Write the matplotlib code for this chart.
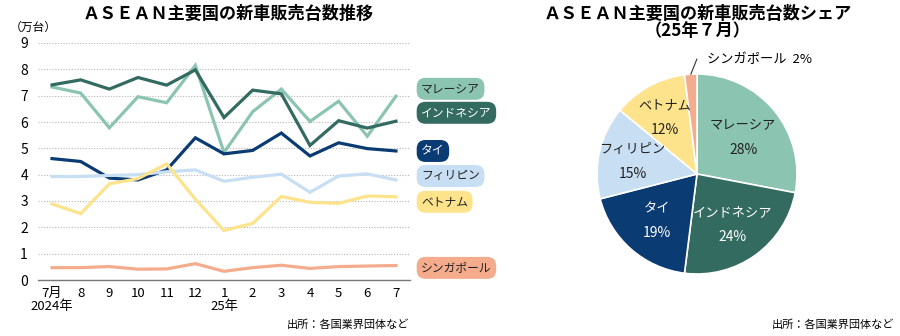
import matplotlib
matplotlib.use("Agg")
import numpy as np
import matplotlib.pyplot as plt

plt.rcParams["font.family"] = ["Noto Sans CJK JP", "DejaVu Sans"]

# 月次の新車販売台数（万台）
MONTHS = ["7月\n2024年", "8", "9", "10", "11", "12", "1\n25年", "2", "3", "4", "5", "6", "7"]
COUNTRIES = ["マレーシア", "インドネシア", "タイ", "フィリピン", "ベトナム", "シンガポール"]
MALAYSIA = [7.33, 7.10, 5.78, 6.96, 6.73, 8.15, 4.84, 6.39, 7.25, 6.02, 6.79, 5.46, 6.98]
INDONESIA = [7.41, 7.60, 7.25, 7.69, 7.40, 7.98, 6.17, 7.21, 7.07, 5.11, 6.05, 5.77, 6.03]
THAILAND = [4.61, 4.50, 3.87, 3.80, 4.18, 5.40, 4.79, 4.92, 5.58, 4.71, 5.21, 4.99, 4.90]
PHILIPPINES = [3.93, 3.93, 3.97, 4.00, 4.11, 4.18, 3.75, 3.90, 4.02, 3.33, 3.95, 4.03, 3.80]
VIETNAM = [2.89, 2.52, 3.65, 3.85, 4.41, 3.07, 1.88, 2.15, 3.17, 2.95, 2.91, 3.19, 3.16]
SINGAPORE = [0.47, 0.47, 0.51, 0.41, 0.42, 0.62, 0.33, 0.47, 0.56, 0.44, 0.51, 0.53, 0.55]

# 25年7月のシェア（%）
SHARES = [28, 24, 19, 15, 12, 2]

COLORS = ["#8bc4b1", "#336b61", "#0b3b73", "#c7def3", "#fde38b", "#f4ac8d"]
TEXT_COLORS = ["#222222", "white", "white", "#222222", "#222222", "#222222"]
LABEL_Y = [7.26, 6.35, 4.9, 3.95, 2.97, 0.46]

fig = plt.figure(figsize=(9, 3.36), dpi=100)

# ---- line chart ----
ax = fig.add_axes([38 / 900, 1 - 280 / 336, 372 / 900, 237 / 336])
series = [MALAYSIA, INDONESIA, THAILAND, PHILIPPINES, VIETNAM, SINGAPORE]
x = np.arange(len(MONTHS))
draw_order = [5, 3, 4, 2, 1, 0]
for i in draw_order:
    ax.plot(x, series[i], color=COLORS[i], lw=2.3, solid_joinstyle="miter", zorder=3 + i * 0.1)

ax.set_xlim(-0.49, 12.49)
ax.set_ylim(0, 9)
ax.set_yticks(range(0, 10))
ax.set_xticks(x)
ax.set_xticklabels(MONTHS, fontsize=9.5, linespacing=1.05)
ax.tick_params(axis="y", length=0, pad=10, labelsize=10)
ax.tick_params(axis="x", length=0, pad=5)
for t in ax.get_yticklabels():
    t.set_horizontalalignment("center")
for y in range(1, 10):
    ax.axhline(y, color="#b5b5b5", lw=0.8, ls=(0, (1, 1.5)), zorder=1)
for s in ["left", "right", "top"]:
    ax.spines[s].set_visible(False)
ax.spines["bottom"].set_color("#777777")
ax.spines["bottom"].set_linewidth(1.0)

for i, name in enumerate(COUNTRIES):
    ax.text(12.88, LABEL_Y[i], name, fontsize=8.5, color=TEXT_COLORS[i],
            ha="left", va="center", clip_on=False,
            bbox=dict(boxstyle="round,pad=0.38,rounding_size=0.75", fc=COLORS[i], ec="none"))

fig.text(228 / 900, 1 - 14 / 336, "ＡＳＥＡＮ主要国の新車販売台数推移", fontsize=12.3,
         fontweight="bold", ha="center", va="center")
fig.text(10 / 900, 1 - 27 / 336, "（万台）", fontsize=8.5, ha="left", va="center")
fig.text(409 / 900, 1 - 325 / 336, "出所：各国業界団体など", fontsize=8, ha="right", va="center")

# ---- pie chart ----
pax = fig.add_axes([597 / 900, 1 - 274 / 336, 200 / 900, 200 / 336])
wedges, _ = pax.pie(SHARES, colors=COLORS, startangle=90, counterclock=False,
                    wedgeprops=dict(edgecolor="white", linewidth=1.2))
pax.set_aspect("equal")
pax.set_xlim(-1, 1)
pax.set_ylim(-1, 1)

for i, w in enumerate(wedges[:-1]):
    ang = np.deg2rad((w.theta1 + w.theta2) / 2)
    r = 0.6 if i < 3 else 0.66
    px, py = r * np.cos(ang), r * np.sin(ang)
    pax.text(px, py + 0.1, COUNTRIES[i], fontsize=9.5, color=TEXT_COLORS[i], ha="center", va="center")
    pax.text(px, py - 0.14, f"{SHARES[i]}%", fontsize=10, color=TEXT_COLORS[i], ha="center", va="center")

w = wedges[-1]
ang = np.deg2rad((w.theta1 + w.theta2) / 2)
x0, y0 = 0.98 * np.cos(ang), 0.98 * np.sin(ang)
pax.plot([x0, x0 + 0.06], [y0 + 0.02, y0 + 0.17], color="#333333", lw=0.8, clip_on=False)
pax.text(0.1, y0 + 0.17, f"{COUNTRIES[-1]}  {SHARES[-1]}%", fontsize=9.5, ha="left", va="center")

fig.text(698 / 900, 1 - 14 / 336, "ＡＳＥＡＮ主要国の新車販売台数シェア", fontsize=12.3,
         fontweight="bold", ha="center", va="center")
fig.text(698 / 900, 1 - 31 / 336, "（25年７月）", fontsize=12.3,
         fontweight="bold", ha="center", va="center")
fig.text(894 / 900, 1 - 325 / 336, "出所：各国業界団体など", fontsize=8, ha="right", va="center")

fig.savefig("out.png", dpi=100)
